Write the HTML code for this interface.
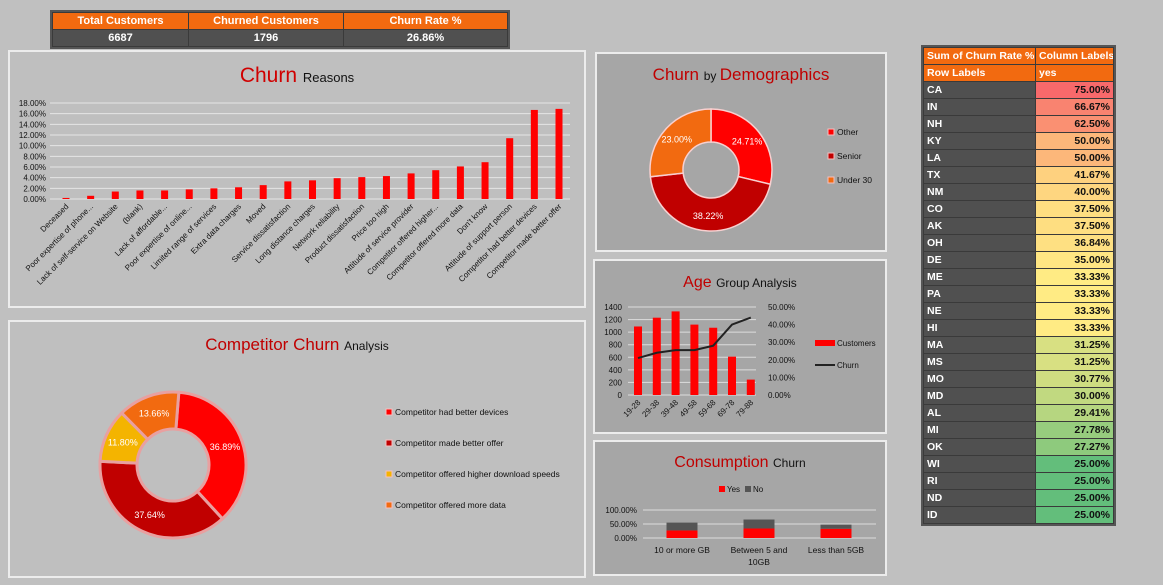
<!DOCTYPE html>
<html><head><meta charset="utf-8">
<style>
*{margin:0;padding:0;box-sizing:border-box}
body{width:1163px;height:585px;background:#c0c0c0;font-family:"Liberation Sans",sans-serif;position:relative;overflow:hidden}
.panel{position:absolute;border:2px solid #ececec}
svg{position:absolute;left:0;top:0}
table{border-collapse:collapse;position:absolute}
.kpi td{border:1px solid #3a3a3a;text-align:center;font-size:11px;font-weight:bold;height:17px;color:#fff}
.kpi tr:first-child td{background:#f26a10}
.kpi tr:last-child td{background:#505050}
.piv{table-layout:fixed}
.piv td{border:1px solid #3a3a3a;font-size:10.5px;font-weight:bold;height:17px;padding:0 3px;line-height:15px;white-space:nowrap;overflow:hidden}
</style></head><body>
<table class="kpi" style="left:52px;top:12px;width:456px;outline:2px solid #555">
<tr><td style="width:136px">Total Customers</td><td style="width:155px">Churned Customers</td><td>Churn Rate %</td></tr>
<tr><td>6687</td><td>1796</td><td>26.86%</td></tr></table>

<div class="panel" style="left:8px;top:50px;width:578px;height:258px;background:#bfbfbf"></div>
<div class="panel" style="left:8px;top:320px;width:578px;height:258px;background:#bfbfbf"></div>
<div class="panel" style="left:595px;top:52px;width:292px;height:200px;background:#a6a6a6"></div>
<div class="panel" style="left:593px;top:259px;width:294px;height:175px;background:#a6a6a6"></div>
<div class="panel" style="left:593px;top:440px;width:294px;height:136px;background:#a6a6a6"></div>

<table class="piv" id="piv" style="left:923px;top:47px;width:190px;outline:2px solid #555">
<colgroup><col style="width:112px"><col style="width:78px"></colgroup>
<tr><td style="background:#f26a10;color:#fff">Sum of Churn Rate %</td><td style="background:#f26a10;color:#fff">Column Labels</td></tr>
<tr><td style="background:#f26a10;color:#fff">Row Labels</td><td style="background:#f26a10;color:#fff">yes</td></tr>
</table>

<svg id="s" width="1163" height="585" xmlns="http://www.w3.org/2000/svg" font-family="Liberation Sans, sans-serif"></svg>
<script>
const reasonCats=["Deceased","Poor expertise of phone...","Lack of self-service on Website","(blank)","Lack of affordable...","Poor expertise of online...","Limited range of services","Extra data charges","Moved","Service dissatisfaction","Long distance charges","Network reliability","Product dissatisfaction","Price too high","Attitude of service provider","Competitor offered higher...","Competitor offered more data","Don't know","Attitude of support person","Competitor had better devices","Competitor made better offer"];
const reasonVals=[0.2,0.6,1.4,1.6,1.6,1.8,2.0,2.2,2.6,3.3,3.5,3.9,4.1,4.3,4.8,5.4,6.1,6.9,11.4,16.7,16.9];
const reasonTicks=[0,2,4,6,8,10,12,14,16,18];
const compCats=["Competitor had better devices","Competitor made better offer","Competitor offered higher download speeds","Competitor offered more data"];
const compVals=[36.89,37.64,11.80,13.66];
const demoCats=["Other","Senior","Under 30"];
const demoVals=[24.71,38.22,23.00];
const ageCats=["19-28","29-38","39-48","49-58","59-68","69-78","79-88"];
const ageCustomers=[1090,1230,1330,1120,1070,610,245];
const ageChurn=[21,24,25.5,25.5,28,40,44];
const ageLeftTicks=[0,200,400,600,800,1000,1200,1400];
const ageRightTicks=[0,10,20,30,40,50];
const consCats=["10 or more GB","Between 5 and 10GB","Less than 5GB"];
const consYes=[27,34,33];
const consNo=[28,32,15];
const consTicks=[0,50,100];
const states=["CA","IN","NH","KY","LA","TX","NM","CO","AK","OH","DE","ME","PA","NE","HI","MA","MS","MO","MD","AL","MI","OK","WI","RI","ND","ID"];
const stateRates=[75,66.67,62.5,50,50,41.67,40,37.5,37.5,36.84,35,33.33,33.33,33.33,33.33,31.25,31.25,30.77,30,29.41,27.78,27.27,25,25,25,25];

const S=document.getElementById('s'),NS="http://www.w3.org/2000/svg";
function el(t,a,txt){const e=document.createElementNS(NS,t);for(const k in a)e.setAttribute(k,a[k]);if(txt!==undefined)e.textContent=txt;S.appendChild(e);return e;}
function title(x,y,parts){const t=el('text',{x:x,y:y,'text-anchor':'middle'});parts.forEach(p=>{const ts=document.createElementNS(NS,'tspan');ts.setAttribute('font-size',p[1]);ts.setAttribute('fill',p[2]);ts.textContent=p[0];t.appendChild(ts);});return t;}

// Churn reasons
let t=title(297,82,[["Churn ",21,"#d00000"],["Reasons",13,"#111"]]);

const ry=v=>199-v*(96/18), rx=i=>66+i*24.65;
reasonTicks.forEach(v=>{el('line',{x1:50,x2:570,y1:ry(v),y2:ry(v),stroke:'#e4e4e4','stroke-width':1});
 const l=el('text',{x:46,y:ry(v)+3,'font-size':8,'text-anchor':'end',fill:'#111'},v.toFixed(2)+'%');
 });
reasonVals.forEach((v,i)=>{const b=el('rect',{x:rx(i)-3.5,y:ry(v),width:7,height:199-ry(v),fill:'#f00'});
 
 const l=el('text',{x:rx(i)+3,y:207,'font-size':8,'text-anchor':'end',fill:'#111',transform:`rotate(-45 ${rx(i)+3} 207)`},reasonCats[i]);
 });

function donut(cx,cy,R,r,vals,cols,start,labels,lr,fs,stroke,sw,nm){const tot=vals.reduce((a,b)=>a+b,0);let a=start;
 vals.forEach((v,i)=>{const a2=a+v/tot*2*Math.PI;const p=(ang,rad)=>[cx+rad*Math.sin(ang),cy-rad*Math.cos(ang)];const lg=a2-a>Math.PI?1:0;
  const [x1,y1]=p(a,R),[x2,y2]=p(a2,R),[x3,y3]=p(a2,r),[x4,y4]=p(a,r);
  const s=el('path',{d:`M${x1},${y1}A${R},${R} 0 ${lg} 1 ${x2},${y2}L${x3},${y3}A${r},${r} 0 ${lg} 0 ${x4},${y4}Z`,fill:cols[i],stroke:stroke,'stroke-width':sw});
  
  const m=(a+a2)/2,[lx,ly]=p(m,lr);
  const l=el('text',{x:lx,y:ly+3,'font-size':fs,'text-anchor':'middle',fill:'#fff'},labels[i]);
  a=a2;});}
function legend(x,y,gap,cats,cols,fs,nm){cats.forEach((c,i)=>{const r=el('rect',{x:x,y:y+i*gap-6,width:6,height:6,fill:cols[i],stroke:'#f4c0c0','stroke-width':1});
 
 const l=el('text',{x:x+9,y:y+i*gap,'font-size':fs,fill:'#111'},c);});}

t=title(297,350,[["Competitor Churn ",17,"#c00000"],["Analysis",12,"#111"]]);

const compCols=["#ff0000","#c00000","#f4b400","#f26a10"];
donut(173,465,73,36,compVals,compCols,0.08,compVals.map(v=>v.toFixed(2)+'%'),55,9,'#e8a0a0',3,'competitor');
legend(386,415,31,compCats,compCols,8.5,'competitor');

t=title(741,80,[["Churn ",17,"#c00000"],["by ",12,"#111"],["Demographics",17,"#c00000"]]);

const demoCols=["#ff0000","#c00000","#f26a10"];
donut(711,170,61,28,demoVals,demoCols,0,demoVals.map(v=>v.toFixed(2)+'%'),46,9,'#f8d0d0',1.5,'demographics');
legend(828,135,24,demoCats,demoCols,8.5,'demographics');

t=title(740,287,[["Age ",16,"#c00000"],["Group Analysis",12,"#111"]]);

const ay=v=>395-v*(88/1400), ay2=v=>395-v*(88/50), ax=i=>638+i*18.8;
ageLeftTicks.forEach(v=>{el('line',{x1:628,x2:756,y1:ay(v),y2:ay(v),stroke:'#dcdcdc'});
 const l=el('text',{x:622,y:ay(v)+3,'font-size':8,'text-anchor':'end',fill:'#111'},v);});
ageRightTicks.forEach(v=>{const l=el('text',{x:768,y:ay2(v)+3,'font-size':8,fill:'#111'},v.toFixed(2)+'%');});
ageCustomers.forEach((v,i)=>{const b=el('rect',{x:ax(i)-4,y:ay(v),width:8,height:395-ay(v),fill:'#f00'});
 const l=el('text',{x:ax(i)+3,y:403,'font-size':8,'text-anchor':'end',fill:'#111',transform:`rotate(-45 ${ax(i)+3} 403)`},ageCats[i]);});
const ln=el('polyline',{points:ageChurn.map((v,i)=>ax(i)+','+ay2(v)).join(' '),fill:'none',stroke:'#222','stroke-width':2});

let r1=el('rect',{x:815,y:340,width:20,height:6,fill:'#f00'});
let l1=el('text',{x:837,y:346,'font-size':8,fill:'#111'},'Customers');
let r2=el('line',{x1:815,x2:835,y1:365,y2:365,stroke:'#222','stroke-width':2});
let l2=el('text',{x:837,y:368,'font-size':8,fill:'#111'},'Churn');

t=title(740,467,[["Consumption ",16,"#c00000"],["Churn",12,"#111"]]);

r1=el('rect',{x:719,y:486,width:6,height:6,fill:'#f00'});
l1=el('text',{x:727,y:492,'font-size':8,fill:'#111'},'Yes');
r2=el('rect',{x:745,y:486,width:6,height:6,fill:'#555'});
l2=el('text',{x:753,y:492,'font-size':8,fill:'#111'},'No');
const cy=v=>538-v*0.28, cx=i=>682+i*77;
consTicks.forEach(v=>{el('line',{x1:643,x2:876,y1:cy(v),y2:cy(v),stroke:'#dcdcdc'});
 const l=el('text',{x:637,y:cy(v)+3,'font-size':8,'text-anchor':'end',fill:'#111'},v.toFixed(2)+'%');});
consCats.forEach((c,i)=>{const y=el('rect',{x:cx(i)-15.5,y:cy(consYes[i]),width:31,height:538-cy(consYes[i]),fill:'#f00'});
 const n=el('rect',{x:cx(i)-15.5,y:cy(consYes[i]+consNo[i]),width:31,height:cy(consYes[i])-cy(consYes[i]+consNo[i]),fill:'#555'});
 const words=c==="Between 5 and 10GB"?["Between 5 and","10GB"]:[c];
 words.forEach((w,k)=>{const l=el('text',{x:cx(i),y:553+k*12,'font-size':8.5,'text-anchor':'middle',fill:'#111'},w);});});

const piv=document.getElementById('piv');
function mix(a,b,t){return 'rgb('+a.map((v,i)=>Math.round(v+(b[i]-v)*t)).join(',')+')';}
const G=[99,190,123],Y=[255,235,132],R=[248,105,107];
states.forEach((s,i)=>{const v=stateRates[i];const c=v<=33.33?mix(G,Y,(v-25)/8.33):mix(Y,R,(v-33.33)/41.67);
 const tr=document.createElement('tr');
 
 
 tr.innerHTML=`<td style="background:#505050;color:#fff">${s}</td><td style="background:${c};color:#111;text-align:right">${v.toFixed(2)}%</td>`;
 piv.appendChild(tr);});
</script>
</body></html>
